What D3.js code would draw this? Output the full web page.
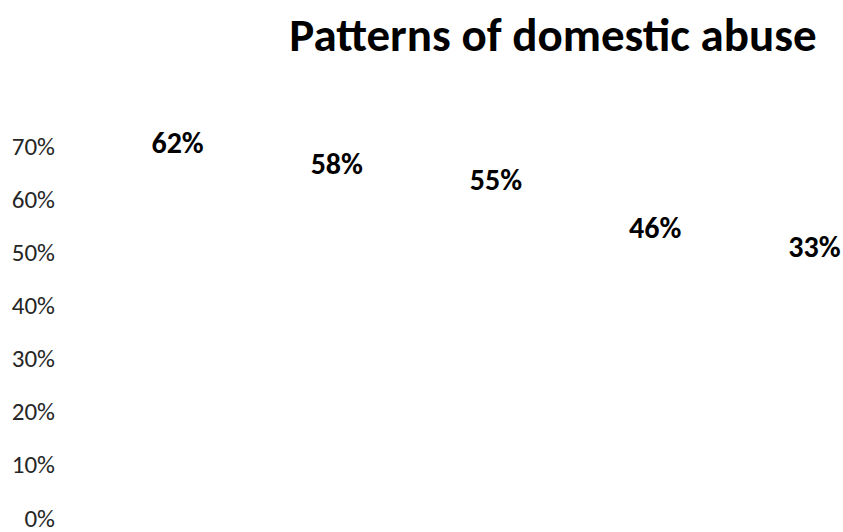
<!DOCTYPE html>
<html>
<head>
<meta charset="utf-8">
<script src="https://cdn.jsdelivr.net/npm/d3@7"></script>
<style>
  html, body { margin: 0; padding: 0; background: #ffffff; }
  svg { display: block; }
  text { font-family: Carlito, Calibri, Lato, "Open Sans", sans-serif; }
</style>
</head>
<body>
<svg id="chart" width="843" height="532"></svg>
<script>
// ---- data ----
const title = "Patterns of domestic abuse";
const categories = ["Category 1", "Category 2", "Category 3", "Category 4", "Category 5"];
const values = [62, 58, 55, 46, 33];
const valueLabels = ["62%", "58%", "55%", "46%", "33%"];
const yTicks = [0, 10, 20, 30, 40, 50, 60, 70];
const yTickLabels = ["0%", "10%", "20%", "30%", "40%", "50%", "60%", "70%"];

const svg = d3.select("#chart");

const y = d3.scaleLinear().domain([0, 70]).range([518, 146]);
const x = d3.scaleBand().domain(categories).range([98, 894]).paddingInner(0.3).paddingOuter(0.15);

// title
svg.append("text")
  .attr("x", 553).attr("y", 51)
  .attr("text-anchor", "middle")
  .attr("font-size", 47).attr("font-weight", "bold")
  .attr("fill", "#000")
  .text(title);

// y axis (labels only)
const yAxis = d3.axisLeft(y)
  .tickValues(yTicks)
  .tickFormat((d, i) => yTickLabels[i])
  .tickSize(0).tickPadding(0);
const ga = svg.append("g").attr("transform", "translate(55,0)").call(yAxis);
ga.select(".domain").remove();
ga.selectAll("text")
  .attr("font-size", 25)
  .attr("fill", "#262626")
  .style("font-family", "Carlito, Calibri, Lato, 'Open Sans', sans-serif");

// bars (white, invisible on white background as in the reference)
svg.append("g").selectAll("rect")
  .data(values)
  .join("rect")
  .attr("x", (d, i) => x(categories[i]))
  .attr("width", x.bandwidth())
  .attr("y", d => y(d))
  .attr("height", d => y(0) - y(d))
  .attr("fill", "#ffffff");

// value labels
svg.append("g").selectAll("text")
  .data(values)
  .join("text")
  .attr("x", (d, i) => x(categories[i]) + x.bandwidth() / 2)
  .attr("y", d => Math.min(y(d), y(42.5)) - 35.5)
  .attr("text-anchor", "middle")
  .attr("font-size", 30).attr("font-weight", "bold")
  .attr("fill", "#000")
  .text((d, i) => valueLabels[i]);
</script>
</body>
</html>
